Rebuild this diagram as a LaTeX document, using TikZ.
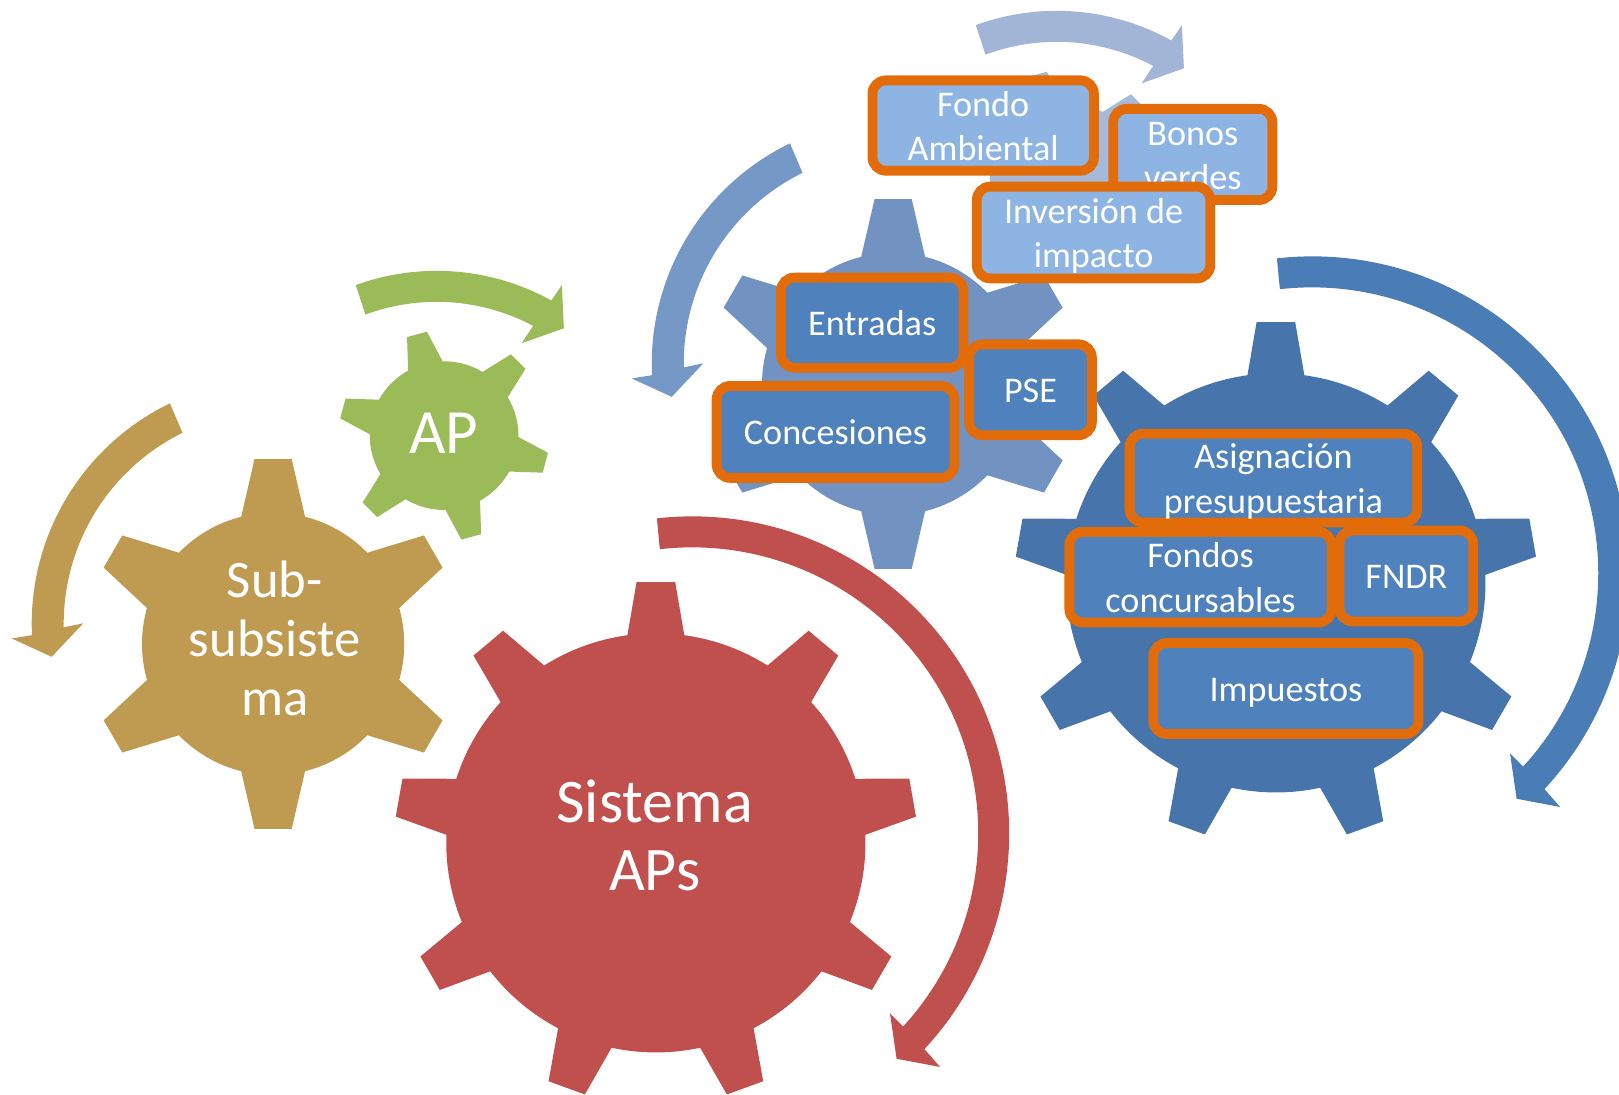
\documentclass[tikz,border=0pt]{standalone}
\usepackage{fontspec}
\setmainfont{Carlito}
\usetikzlibrary{calc}
\definecolor{cTan}{RGB}{191,155,82}
\definecolor{cGreen}{RGB}{155,187,89}
\definecolor{cRed}{RGB}{192,80,77}
\definecolor{cMid}{RGB}{114,147,193}
\definecolor{cMidArrow}{RGB}{118,152,199}
\definecolor{cTop}{RGB}{165,185,218}
\definecolor{cTopArrow}{RGB}{162,181,214}
\definecolor{cDark}{RGB}{71,116,171}
\definecolor{cDarkArrow}{RGB}{74,125,182}
\definecolor{cBox}{RGB}{79,129,189}
\definecolor{cBoxLight}{RGB}{141,180,226}
\definecolor{cOrange}{RGB}{227,108,10}

\newcommand{\st}{\rule[-0.26em]{0pt}{\baselineskip}}

% #1 colour, #2 centre, #3 tip radius, #4 body radius, #5 teeth, #6 first tooth angle, #7 tip half angle, #8 base half angle
\newcommand{\drawgear}[8]{%
  \fill[#1, shift={#2}] ({#6-#8}:#4)
    \foreach \k in {1,...,#5}{
      -- ({#6+(\k-1)*360/#5-#8}:#4) -- ({#6+(\k-1)*360/#5-#7}:#3)
      -- ({#6+(\k-1)*360/#5+#7}:#3) -- ({#6+(\k-1)*360/#5+#8}:#4)
      arc[start angle={#6+(\k-1)*360/#5+#8}, end angle={#6+\k*360/#5-#8}, radius=#4]
    } -- cycle;
}
% small gear arrow (clockwise over the top)
\newcommand{\arrowA}[2]{%
  \fill[#1, shift={#2}] (110:229) arc[start angle=110, end angle=61, radius=229]
    -- (60.6:247) -- (54.6:212.7) -- (62.6:178.9) -- (62:199)
    arc[start angle=62, end angle=110.3, radius=199] -- cycle;
}
% medium gear arrow (counter-clockwise on the left)
\newcommand{\arrowB}[2]{%
  \fill[#1, shift={#2}] (115.8:237) arc[start angle=115.8, end angle=182.7, radius=237]
    -- (183.2:256.8) -- (188.4:220) -- (179.9:187) -- (181:206)
    arc[start angle=181, end angle=116.2, radius=206] -- cycle;
}
% large gear arrow (clockwise on the right)
\newcommand{\arrowC}[2]{%
  \fill[#1, shift={#2}] (96.4:307) arc[start angle=96.4, end angle=-42.9, radius=307]
    -- (-43.3:329.9) -- (-47.8:294.7) -- (-42.3:259) -- (-42.5:277)
    arc[start angle=-42.5, end angle=96.5, radius=277] -- cycle;
}

\tikzset{
  srcbox/.style={draw=cOrange, line width=9.5pt, rounded corners=13pt, fill=#1,
    text=white, font=\fontsize{35}{43}\selectfont, align=center, inner sep=0pt},
  geartext/.style={text=white, align=center, inner sep=0pt},
}

\begin{document}
\begin{tikzpicture}[x=1pt,y=1pt]
\useasboundingbox (0,0) rectangle (1568,-1060);
\clip (0,0) rectangle (1568,-1060);

% first set of gears
\arrowC{cRed}{(670.4,-807.1)}
\drawgear{cRed}{(635.2,-816.3)}{253.2}{203}{9}{90}{4.24}{7.8}
\arrowB{cTan}{(267.7,-604)}
\drawgear{cTan}{(264.5,-623.7)}{180}{127}{6}{90}{5.74}{14.1}
\arrowA{cGreen}{(422.9,-491.3)}
\drawgear{cGreen}{(430.1,-421.9)}{102}{72}{6}{105}{5.6}{13.9}

% second set of gears
\arrowC{cDarkArrow}{(1270.9,-555.3)}
\drawgear{cDark}{(1235.7,-564.5)}{253.2}{203}{9}{90}{4.24}{7.8}
\arrowB{cMidArrow}{(868.2,-352.2)}
\drawgear{cMid}{(865,-371.9)}{180}{127}{6}{90}{5.74}{14.1}
\arrowA{cTopArrow}{(1023.4,-239.5)}
\drawgear{cTop}{(1030.6,-170.1)}{102}{72}{6}{105}{5.6}{13.9}

% gear labels
\node[geartext, font=\fontsize{60}{66.7}\selectfont] (tsis) at (634,-811.75) {\st Sistema\\\st APs};
\node[geartext, font=\fontsize{61}{67}\selectfont] (tap) at (429.7,-422) {\st AP};
\node[geartext, font=\fontsize{51}{57}\selectfont] (tsub) at (266,-620.9) {\st Sub-\\\st subsiste\\\st ma};

% boxes
\node[srcbox=cBoxLight, minimum width=214.5pt, minimum height=87.5pt] (fondo) at (952.2,-121.6) {\st Fondo\\\st Ambiental};
\node[srcbox=cBoxLight, minimum width=154.1pt, minimum height=88.3pt] (bonos) at (1155.2,-149.6) {\st Bonos\\\st verdes};
\node[srcbox=cBoxLight, minimum width=226.1pt, minimum height=88.9pt] (inversion) at (1059.1,-225.2) {\st Inversión de\\\st impacto};
\node[srcbox=cBox, minimum width=176.7pt, minimum height=87.3pt] (entradas) at (844.7,-312.5) {\st Entradas};
\node[srcbox=cBox, minimum width=119pt, minimum height=88pt] (pse) at (998,-377.5) {\st PSE};
\node[srcbox=cBox, minimum width=230.3pt, minimum height=89pt] (concesiones) at (809.2,-418.3) {\st Concesiones};
\node[srcbox=cBox, minimum width=278.5pt, minimum height=84.5pt] (asignacion) at (1233.3,-463) {\st Asignación\\\st presupuestaria};
\node[srcbox=cBox, minimum width=254.1pt, minimum height=87.8pt] (fondos) at (1162.7,-559) {\st Fondos\\\st concursables};
\node[srcbox=cBox, minimum width=129.5pt, minimum height=88.1pt] (fndr) at (1362,-557.8) {\st FNDR};
\node[srcbox=cBox, minimum width=256.9pt, minimum height=88.1pt] (impuestos) at (1245.4,-666.8) {\st Impuestos};
\end{tikzpicture}
\end{document}
